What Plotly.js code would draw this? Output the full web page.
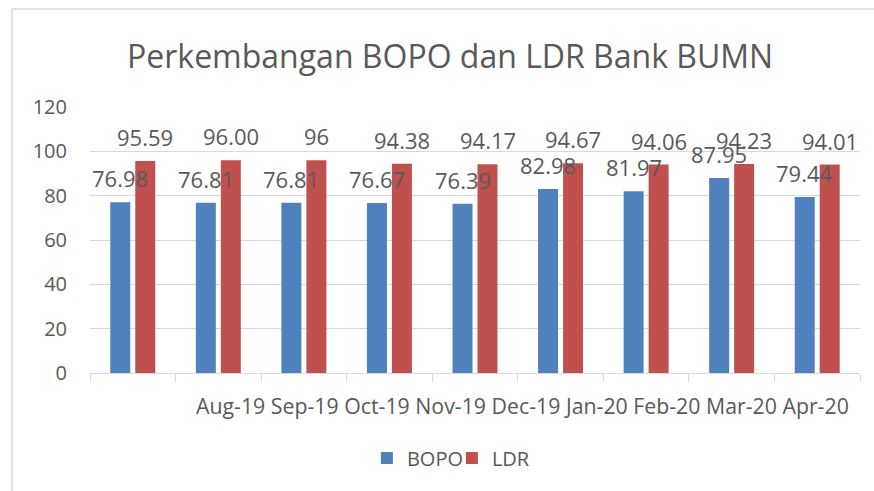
<!DOCTYPE html>
<html>
<head>
<meta charset="utf-8">
<script src="https://cdn.plot.ly/plotly-3.0.1.min.js"></script>
<style>html,body{margin:0;padding:0;background:#fff;overflow:hidden;}#chart{width:874px;height:491px;overflow:hidden;}</style>
</head>
<body>
<div id="chart"></div>
<script>
const months = ["Aug-19","Sep-19","Oct-19","Nov-19","Dec-19","Jan-20","Feb-20","Mar-20","Apr-20"];
const bopo = [76.98, 76.81, 76.81, 76.67, 76.39, 82.98, 81.97, 87.95, 79.44];
const ldr = [95.59, 96.00, 96.00, 94.38, 94.17, 94.67, 94.06, 94.23, 94.01];
const bopoLabels = ["76.98","76.81","76.81","76.67","76.39","82.98","81.97","87.95","79.44"];
const ldrLabels = ["95.59","96.00","96","94.38","94.17","94.67","94.06","94.23","94.01"];
const yTicks = [0, 20, 40, 60, 80, 100, 120];

const font = "Open Sans, Noto Sans, sans-serif";
const textColor = "#595959";
const gray = "#d9d9d9";

const traces = [
  {type: "bar", name: "BOPO", x: months, y: bopo, marker: {color: "#4f81bd"}, hoverinfo: "x+y"},
  {type: "bar", name: "LDR", x: months, y: ldr, marker: {color: "#c0504d"}, hoverinfo: "x+y"}
];

const annotations = [];
months.forEach((m, i) => {
  annotations.push({x: m, y: bopo[i], xref: "x", yref: "y", text: bopoLabels[i], showarrow: false,
    xshift: -12.5, yshift: 7, yanchor: "bottom", xanchor: "center", font: {family: font, size: 22, color: textColor}});
  annotations.push({x: m, y: ldr[i], xref: "x", yref: "y", text: ldrLabels[i], showarrow: false,
    xshift: 12.5, yshift: 7, yanchor: "bottom", xanchor: "center", font: {family: font, size: 22, color: textColor}});
});
annotations.push({x: 0.5623, y: -0.124, xref: "paper", yref: "paper", text: months.join(" "), showarrow: false,
  xanchor: "center", yanchor: "middle", font: {family: font, size: 21.3, color: textColor}});

const layout = {
  width: 874, height: 491,
  margin: {l: 90, r: 14, t: 107, b: 118},
  paper_bgcolor: "#ffffff", plot_bgcolor: "#ffffff",
  font: {family: font, color: textColor},
  title: {text: "Perkembangan BOPO dan LDR Bank BUMN", xref: "container", x: 0.515, xanchor: "center",
    yref: "container", y: 0.884, yanchor: "middle", font: {family: font, size: 32, color: textColor}},
  barmode: "group", bargap: 0.416, bargroupgap: 0.2,
  showlegend: true,
  legend: {orientation: "h", x: 0.47, xanchor: "center", y: -0.32, yanchor: "middle",
    font: {family: font, size: 20, color: textColor}, itemwidth: 30, tracegroupgap: 0, entrywidth: 40},
  xaxis: {type: "category", showticklabels: false, ticks: "outside", tickson: "boundaries", ticklen: 8,
    tickcolor: gray, showline: true, linecolor: gray, linewidth: 1, showgrid: false, zeroline: false, fixedrange: true},
  yaxis: {range: [0, 120], tickvals: yTicks, showgrid: true, gridcolor: gray, gridwidth: 1, zeroline: false,
    showline: false, ticks: "", ticklabelstandoff: 22, tickfont: {family: font, size: 20, color: textColor}, fixedrange: true},
  annotations: annotations,
  shapes: [
    {type: "line", xref: "paper", yref: "paper", x0: (12 - 90) / 770, x1: (12 - 90) / 770, y0: -0.5, y1: (373 - 9) / 266,
      line: {color: gray, width: 1.5}, layer: "below"},
    {type: "line", xref: "paper", yref: "paper", x0: (12 - 90) / 770, x1: (874 - 90) / 770, y0: (373 - 9) / 266, y1: (373 - 9) / 266,
      line: {color: gray, width: 1.5}, layer: "below"}
  ]
};

Plotly.newPlot("chart", traces, layout, {displayModeBar: false, staticPlot: true});
</script>
</body>
</html>
